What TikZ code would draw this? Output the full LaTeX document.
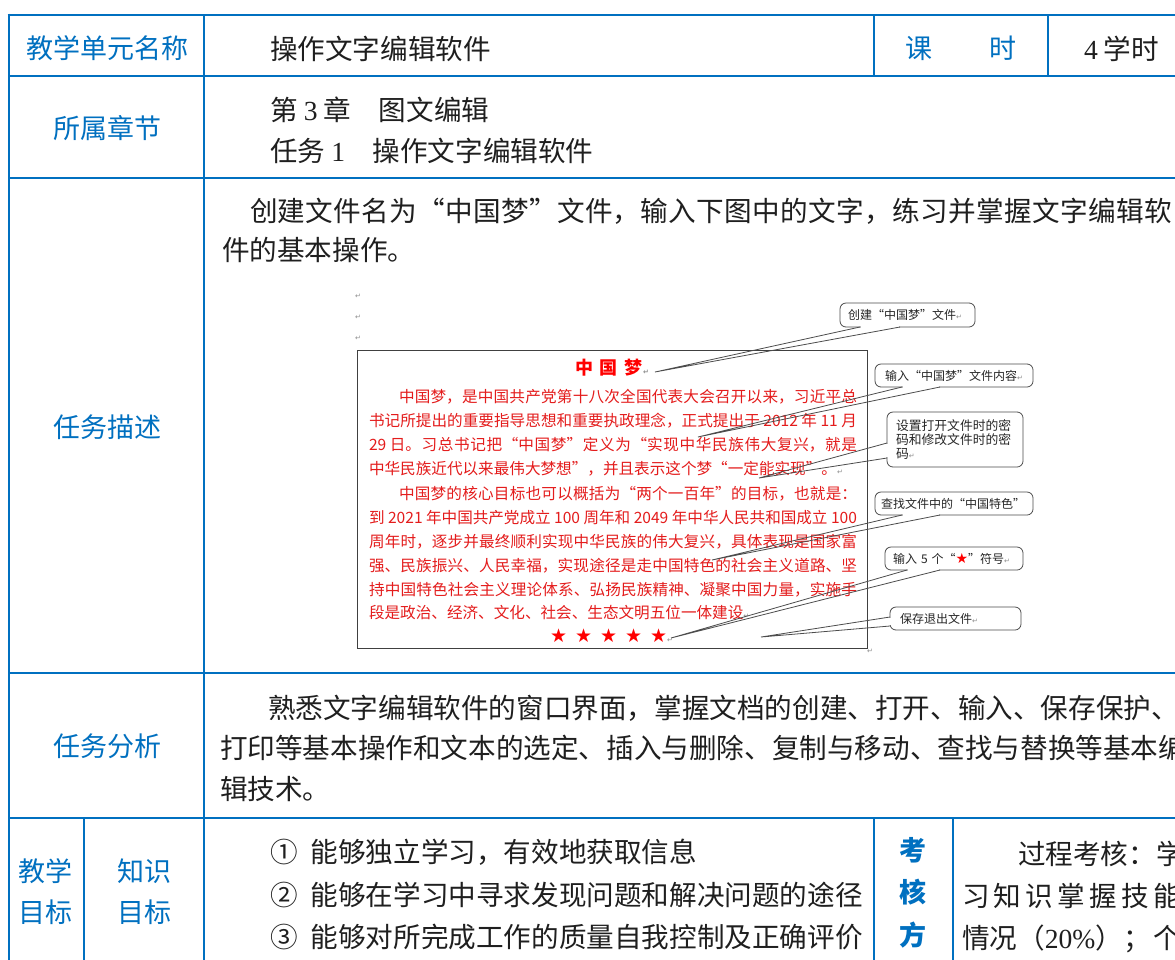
\documentclass[tikz,border=0pt]{standalone}
\usepackage{fontspec}
\setmainfont{Liberation Serif}
\newfontfamily\cjk{Noto Sans CJK SC}
\newfontfamily\dvs{DejaVu Sans}
\usetikzlibrary{calc}
\definecolor{tblue}{RGB}{0,112,192}
\definecolor{docred}{RGB}{228,28,28}
\newcommand\rtn{{\dvs\fontsize{7}{8}\selectfont\color{black!45}↵}}
\newcommand\jl[2]{\parbox[b]{#1}{\XeTeXlinebreaklocale "zh"\XeTeXlinebreakskip=0pt plus 30pt minus 0.8pt\relax\parfillskip=0pt\relax\noindent #2}}
\begin{document}
\begin{tikzpicture}[x=1pt,y=-1pt,
  every node/.style={inner sep=0pt, outer sep=0pt},
  tline/.style={draw=tblue, line width=1.6pt},
  oline/.style={draw=tblue, line width=2.8pt},
  hd/.style={text=tblue, font=\cjk\fontsize{27}{32}\selectfont, text height=21.6pt, text depth=1.4pt},
  hdb/.style={hd, font=\cjk\bfseries\fontsize{27}{32}\selectfont},
  bd/.style={text=black!88, font=\cjk\fontsize{27.6}{32}\selectfont, text height=22pt, text depth=1.4pt, anchor=west},
  rd/.style={text=docred, font=\cjk\fontsize{15.6}{18}\selectfont, text height=12.3pt, text depth=0.8pt, anchor=west},
  cbox/.style={draw=black!70, line width=0.8pt, rounded corners=6pt, fill=white, anchor=north west, font=\cjk\fontsize{12}{14}\selectfont, text=black!85, align=left},
  tail/.style={draw=black!70, line width=0.8pt},
  erase/.style={draw=white, line width=1.6pt},
  rmark/.style={anchor=west}
]
\useasboundingbox (0,0) rectangle (1175,959);
\clip (0,0) rectangle (1175,959);
\fill[white] (0,0) rectangle (1175,959);

% ---------- table grid ----------
\draw[oline] (7.6,15) -- (1180,15);
\draw[oline] (9,13.6) -- (9,965);
\draw[tline] (9,76) -- (1180,76);
\draw[tline] (9,178) -- (1180,178);
\draw[tline] (9,673) -- (1180,673);
\draw[tline] (9,818) -- (1180,818);
\draw[tline] (204,15) -- (204,965);
\draw[tline] (874,15) -- (874,76);
\draw[tline] (1048,15) -- (1048,76);
\draw[tline] (84,818) -- (84,965);
\draw[tline] (874,818) -- (874,965);
\draw[tline] (953,818) -- (953,965);

% ---------- row 1 ----------
\node[hd] (h1) at (107,48) {教学单元名称};
\node[bd] (t1) at (270,49) {操作文字编辑软件};
\node[hd] (ke) at (919,48) {课};
\node[hd] (shi) at (1003,48) {时};
\node[bd] (xs) at (1084,49) {{\rmfamily 4} 学时};

% ---------- row 2 ----------
\node[hd] (h2) at (107,128) {所属章节};
\node[bd] (t2a) at (270,110) {第 {\rmfamily 3} 章　图文编辑};
\node[bd] (t2b) at (270,151) {任务 {\rmfamily 1}　操作文字编辑软件};

% ---------- row 3 ----------
\node[hd] (h3) at (107,427) {任务描述};
\node[bd] (t3a) at (250,211) {\jl{922pt}{创建文件名为“中国梦”文件，输入下图中的文字，练习并掌握文字编辑软}};
\node[bd] (t3b) at (222,250) {件的基本操作。};

% embedded document picture
\node[rmark] (m1) at (355,296) {\rtn};
\node[rmark] (m2) at (355,317) {\rtn};
\node[rmark] (m3) at (355,338) {\rtn};
\node[draw=black!75, line width=0.9pt, minimum width=510pt, minimum height=298pt, anchor=north west] (doc) at (357,350) {};
\node[rmark] (m4) at (867,651) {\rtn};

\node[anchor=west, text=red, font=\cjk\bfseries\fontsize{18}{20}\selectfont, text height=14pt, text depth=1pt] (title) at (575,368) {中\hspace{7pt}国\hspace{7pt}梦\rtn};

\node[rd] (l1) at (399,397) {\jl{458pt}{中国梦，是中国共产党第十八次全国代表大会召开以来，习近平总}};
\node[rd] (l2) at (369,421) {\jl{488pt}{书记所提出的重要指导思想和重要执政理念，正式提出于 2012 年 11 月}};
\node[rd] (l3) at (369,445) {\jl{488pt}{29 日。习总书记把“中国梦”定义为“实现中华民族伟大复兴，就是}};
\node[rd] (l4) at (369,469) {中华民族近代以来最伟大梦想”，并且表示这个梦“一定能实现”。\rtn};
\node[rd] (l5) at (399,494) {\jl{458pt}{中国梦的核心目标也可以概括为“两个一百年”的目标，也就是：}};
\node[rd] (l6) at (369,518) {\jl{488pt}{到 2021 年中国共产党成立 100 周年和 2049 年中华人民共和国成立 100}};
\node[rd] (l7) at (369,542) {\jl{488pt}{周年时，逐步并最终顺利实现中华民族的伟大复兴，具体表现是国家富}};
\node[rd] (l8) at (369,566) {\jl{488pt}{强、民族振兴、人民幸福，实现途径是走中国特色的社会主义道路、坚}};
\node[rd] (l9) at (369,590) {\jl{488pt}{持中国特色社会主义理论体系、弘扬民族精神、凝聚中国力量，实施手}};
\node[rd] (l10) at (369,613) {段是政治、经济、文化、社会、生态文明五位一体建设\rtn};
\node[anchor=west, text=red, font=\dvs\fontsize{19}{20}\selectfont, text height=13pt, text depth=1pt] (stars) at (550,636) {★\hspace{8pt}★\hspace{8pt}★\hspace{8pt}★\hspace{8pt}★\rtn};

% callouts
\node[cbox, minimum height=24pt, text width=119pt, inner xsep=8pt] (c1) at (840,303) {创建“中国梦”文件\rtn};
\node[cbox, minimum height=23pt, text width=138pt, inner xsep=10pt] (c2) at (875,364) {输入“中国梦”文件内容\rtn};
\node[cbox, minimum height=55pt, text width=118pt, inner xsep=9pt, font=\cjk\fontsize{12.8}{14}\selectfont] (c3) at (887,412) {设置打开文件时的密\\码和修改文件时的密\\码\rtn};
\node[cbox, minimum height=23pt, text width=146pt, inner xsep=6pt] (c4) at (875,492) {查找文件中的“中国特色”};
\node[cbox, minimum height=23pt, text width=122pt, inner xsep=8pt] (c5) at (885,547) {输入 5 个“{\dvs\fontsize{14}{14}\selectfont\color{red}★}”符号\rtn};
\node[cbox, minimum height=23pt, text width=111pt, inner xsep=10pt] (c6) at (890,607) {保存退出文件\rtn};

\coordinate (p1) at (655,372);
\coordinate (p2) at (698,437);
\coordinate (p3) at (759,478);
\coordinate (p4) at (712,560);
\coordinate (p5) at (671,638);
\coordinate (p6) at (761,637);

\path (c1.south west) ++(20,0) coordinate (c1a) ++(40,0) coordinate (c1b);
\path (c2.south west) ++(27,0) coordinate (c2a) ++(38,0) coordinate (c2b);
\path (c3.north west) ++(0,31) coordinate (c3a) ++(0,15) coordinate (c3b);
\path (c4.south west) ++(27,0) coordinate (c4a) ++(38,0) coordinate (c4b);
\path (c5.south west) ++(22,0) coordinate (c5a) ++(33,0) coordinate (c5b);
\path (c6.north west) ++(0,10) coordinate (c6a) ++(0,9) coordinate (c6b);

\foreach \c in {c1,c2,c4,c5}{
  \draw[erase] ([xshift=0.9pt]\c a) -- ([xshift=-0.9pt]\c b);
}
\foreach \c in {c3,c6}{
  \draw[erase] ([yshift=-0.9pt]\c a) -- ([yshift=0.9pt]\c b);
}
\draw[tail] (c1a) -- (p1) -- (c1b);
\draw[tail] (c2a) -- (p2) -- (c2b);
\draw[tail] (c3a) -- (p3) -- (c3b);
\draw[tail] (c4a) -- (p4) -- (c4b);
\draw[tail] (c5a) -- (p5) -- (c5b);
\draw[tail] (c6a) -- (p6) -- (c6b);

% ---------- row 4 ----------
\node[hd] (h4) at (107,746) {任务分析};
\node[bd] (t4a) at (268,708) {熟悉文字编辑软件的窗口界面，掌握文档的创建、打开、输入、保存保护、};
\node[bd] (t4b) at (220,748) {打印等基本操作和文本的选定、插入与删除、复制与移动、查找与替换等基本编};
\node[bd] (t4c) at (220,789) {辑技术。};

% ---------- row 5 ----------
\node[hd] (h5a) at (46,871) {教学};
\node[hd] (h5b) at (46,912) {目标};
\node[hd] (h6a) at (144,871) {知识};
\node[hd] (h6b) at (144,912) {目标};
\node[bd] (o1) at (270,852) {①\hspace{13pt}能够独立学习，有效地获取信息};
\node[bd] (o2) at (270,895) {②\hspace{13pt}能够在学习中寻求发现问题和解决问题的途径};
\node[bd] (o3) at (270,937) {③\hspace{13pt}能够对所完成工作的质量自我控制及正确评价};
\node[hdb] (k1) at (913,850) {考};
\node[hdb] (k2) at (913,892) {核};
\node[hdb] (k3) at (913,935) {方};
\node[bd] (e1) at (1018,854) {\makebox[163pt][s]{过程考核：\hfill 学}};
\node[bd] (e2) at (962,896) {\makebox[219pt][s]{习\hfill 知\hfill 识\hfill 掌\hfill 握\hfill 技\hfill 能}};
\node[bd] (e3) at (962,938) {\makebox[219pt][s]{情况（{\rmfamily 20\%}）；\hfill 个}};
\end{tikzpicture}
\end{document}
